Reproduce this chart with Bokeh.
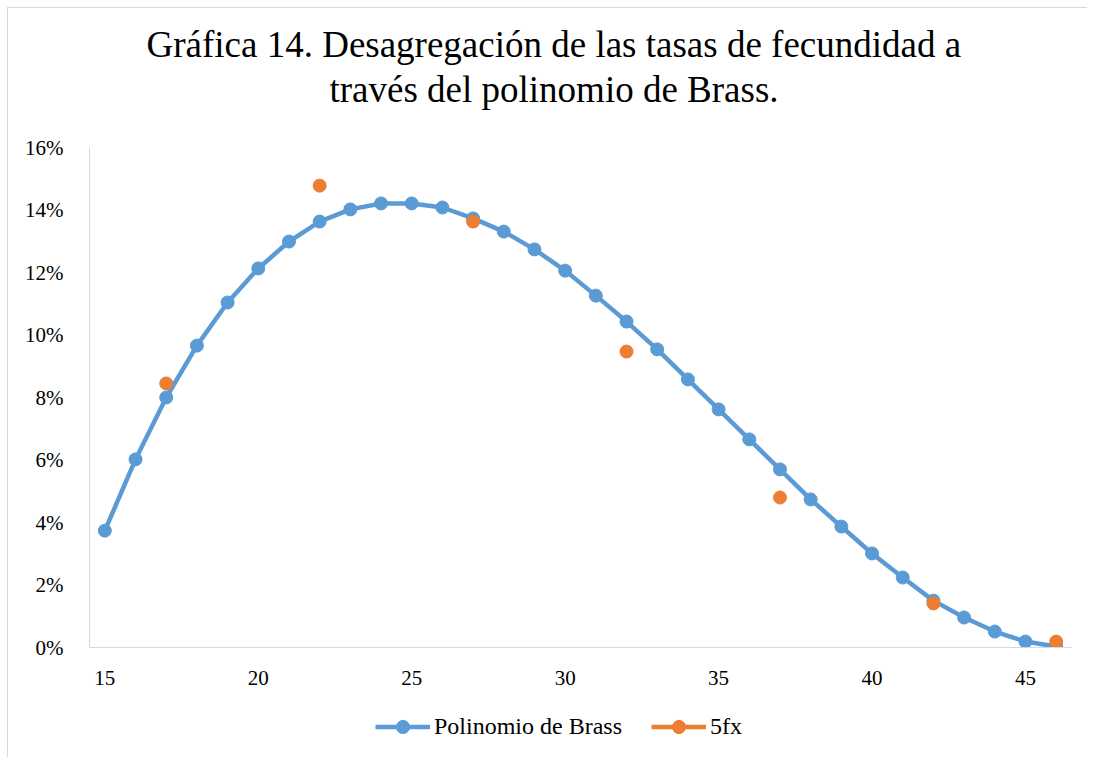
from bokeh.plotting import figure
from bokeh.layouts import column
from bokeh.models import (Range1d, FixedTicker, NumeralTickFormatter, Title, Legend, LegendItem, ColumnDataSource)
from bokeh.embed import file_html
from bokeh.resources import INLINE

# ---- data ----
edades = list(range(15, 47))
polinomio_brass = [0.0374, 0.0602, 0.0800, 0.0966, 0.1104, 0.1213, 0.1299, 0.1363, 0.1402, 0.1421,
                   0.1421, 0.1408, 0.1373, 0.1331, 0.1274, 0.1206, 0.1126, 0.1043, 0.0954, 0.0858,
                   0.0762, 0.0666, 0.0570, 0.0474, 0.0387, 0.0301, 0.0224, 0.0150, 0.0096, 0.0051,
                   0.0019, 0.0003]
edades_5fx = [17, 22, 27, 32, 37, 42, 46]
valores_5fx = [0.0845, 0.1478, 0.1363, 0.0947, 0.0480, 0.0141, 0.0019]
x_ticks = [15, 20, 25, 30, 35, 40, 45]
y_ticks = [0.0, 0.02, 0.04, 0.06, 0.08, 0.10, 0.12, 0.14, 0.16]
titulo_1 = "Gráfica 14. Desagregación de las tasas de fecundidad a"
titulo_2 = "través del polinomio de Brass."
serie_1 = "Polinomio de Brass"
serie_2 = "5fx"

FONT = "Liberation Serif"
BLUE = "#5B9BD5"
ORANGE = "#ED7D31"
GRAY = "#D9D9D9"
NAN = float("nan")

# ---------------- main chart ----------------
p = figure(width=1080, height=700, output_backend="svg", toolbar_location=None,
           x_range=Range1d(14.5, 46.5), y_range=Range1d(0, 0.16),
           min_border_left=81, min_border_right=17, min_border_top=139, min_border_bottom=61)
p.styles = {"margin-left": "7px", "margin-top": "7px",
            "border-left": "1px solid #D9D9D9", "border-top": "1px solid #D9D9D9"}
p.outline_line_color = None
p.xgrid.visible = False
p.ygrid.visible = False

for ax in (p.xaxis, p.yaxis):
    ax.axis_line_color = GRAY
    ax.axis_line_width = 1
    ax.major_tick_line_color = None
    ax.minor_tick_line_color = None
    ax.major_label_text_font = FONT
    ax.major_label_text_font_size = "21px"
    ax.major_label_text_color = "#000000"

p.xaxis.ticker = FixedTicker(ticks=x_ticks)
p.yaxis.ticker = FixedTicker(ticks=y_ticks)
p.yaxis.formatter = NumeralTickFormatter(format="0%")
p.yaxis.major_label_standoff = 20
p.xaxis.major_label_standoff = 17

src_b = ColumnDataSource(dict(x=edades, y=polinomio_brass))
src_o = ColumnDataSource(dict(x=edades_5fx, y=valores_5fx))

p.line("x", "y", source=src_b, line_color=BLUE, line_width=4.5)
p.scatter("x", "y", source=src_b, size=13, marker="circle", fill_color=BLUE, line_color=BLUE)
p.scatter("x", "y", source=src_o, size=13, marker="circle", fill_color=ORANGE, line_color=ORANGE)

# spacer between plot area and the two title lines
spacer = Title(text=" ", text_font=FONT, text_font_size="10px", standoff=25)
t2 = Title(text=titulo_2, align="left", offset=240, text_font=FONT, text_font_size="37px",
           text_color="#000000", text_font_style="normal", standoff=0)
t1 = Title(text=titulo_1, align="left", offset=57, text_font=FONT, text_font_size="37px",
           text_color="#000000", text_font_style="normal", standoff=4)
p.add_layout(spacer, "above")
p.add_layout(t2, "above")
p.add_layout(t1, "above")

# ---------------- legend strip ----------------
q = figure(width=1080, height=50, output_backend="svg", toolbar_location=None,
           x_range=Range1d(0, 1), y_range=Range1d(0, 1),
           min_border_left=0, min_border_right=0, min_border_top=0, min_border_bottom=0)
q.styles = {"margin-left": "7px", "border-left": "1px solid #D9D9D9"}
q.axis.visible = False
q.grid.visible = False
q.outline_line_color = None

lb = q.line(x=[NAN], y=[NAN], line_color=BLUE, line_width=4.5)
sb = q.scatter(x=[NAN], y=[NAN], size=13, marker="circle", fill_color=BLUE, line_color=BLUE)
lo = q.line(x=[NAN], y=[NAN], line_color=ORANGE, line_width=4.5)
so = q.scatter(x=[NAN], y=[NAN], size=13, marker="circle", fill_color=ORANGE, line_color=ORANGE)

legend = Legend(items=[LegendItem(label=serie_1, renderers=[lb, sb]),
                       LegendItem(label=serie_2, renderers=[lo, so])],
                orientation="horizontal", location=(286, 14),
                border_line_color=None, background_fill_alpha=0,
                label_text_font=FONT, label_text_font_size="24px", label_text_color="#000000",
                glyph_width=55, glyph_height=33, label_standoff=4, spacing=29,
                padding=0, margin=0, label_height=33)
q.add_layout(legend, "center")

layout = column(p, q, spacing=0)
open("out.html", "w").write(file_html(layout, INLINE))
